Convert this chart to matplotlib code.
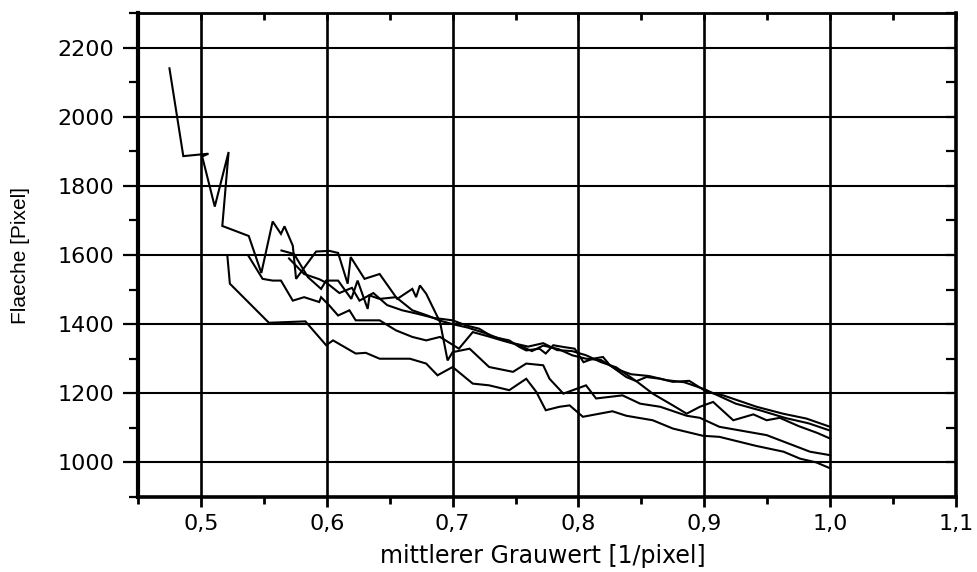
import matplotlib
matplotlib.use("Agg")
import matplotlib.pyplot as plt
from matplotlib.ticker import MultipleLocator, FuncFormatter

plt.rcParams['font.family'] = ['DejaVu Sans']

# Mean grey value vs. area, five measurement series
x_a = [0.475, 0.486, 0.506, 0.501, 0.511, 0.522, 0.517, 0.538, 0.548, 0.557, 0.5636, 0.5664,
       0.573, 0.5756, 0.5915, 0.602, 0.609, 0.6166, 0.619, 0.630, 0.642, 0.656, 0.668, 0.671,
       0.674, 0.679, 0.690, 0.696, 0.700, 0.7135, 0.729, 0.748, 0.7585, 0.772, 0.777, 0.788,
       0.806, 0.814, 0.835, 0.849, 0.865, 0.886, 0.8965, 0.912, 0.9495, 0.984, 1.0]
y_a = [2140, 1886, 1893, 1885, 1740, 1898, 1684, 1655, 1548, 1697, 1661, 1683,
       1627, 1531, 1610, 1612, 1606, 1517, 1594, 1531, 1545, 1473, 1502, 1478,
       1512, 1488, 1406, 1295, 1319, 1329, 1276, 1262, 1286, 1281, 1242, 1199,
       1223, 1185, 1194, 1170, 1161, 1135, 1129, 1103, 1079, 1031, 1021]

x_b = [0.570, 0.582, 0.594, 0.600, 0.610, 0.620, 0.626, 0.637, 0.648, 0.660, 0.672, 0.685,
       0.700, 0.711, 0.721, 0.732, 0.745, 0.753, 0.7585, 0.769, 0.774, 0.780, 0.788, 0.797,
       0.804, 0.8115, 0.8195, 0.825, 0.838, 0.846, 0.854, 0.865, 0.875, 0.888, 0.902, 0.915,
       0.9415, 0.9625, 0.981, 1.0]
y_b = [1590, 1545, 1530, 1519, 1490, 1505, 1468, 1490, 1455, 1440, 1430, 1418,
       1411, 1396, 1387, 1363, 1353, 1334, 1324, 1329, 1315, 1339, 1334, 1329,
       1290, 1300, 1305, 1281, 1247, 1235, 1247, 1242, 1233, 1236, 1204, 1194,
       1161, 1141, 1127, 1103]

x_c = [0.538, 0.549, 0.557, 0.5636, 0.573, 0.582, 0.594, 0.5955, 0.602, 0.609, 0.618, 0.623,
       0.642, 0.655, 0.668, 0.679, 0.690, 0.705, 0.716, 0.728, 0.740, 0.752, 0.763, 0.772,
       0.784, 0.795, 0.806, 0.818, 0.830, 0.842, 0.856, 0.870, 0.884, 0.900, 0.925, 0.945,
       0.965, 0.983, 1.0]
y_c = [1596, 1531, 1526, 1526, 1468, 1478, 1464, 1478, 1454, 1425, 1440, 1411,
       1411, 1382, 1363, 1353, 1363, 1329, 1377, 1365, 1352, 1340, 1322, 1338,
       1328, 1310, 1300, 1296, 1270, 1255, 1250, 1238, 1232, 1212, 1170, 1150,
       1128, 1113, 1092]

x_d = [0.564, 0.574, 0.585, 0.5955, 0.5995, 0.609, 0.6195, 0.6245, 0.6325, 0.634, 0.642, 0.655,
       0.668, 0.680, 0.690, 0.700, 0.712, 0.725, 0.736, 0.748, 0.760, 0.772, 0.783, 0.795,
       0.806, 0.818, 0.830, 0.846, 0.859, 0.875, 0.886, 0.8965, 0.907, 0.923, 0.939, 0.9495,
       0.960, 0.975, 0.990, 1.0]
y_d = [1613, 1603, 1536, 1502, 1526, 1526, 1473, 1526, 1444, 1483, 1473, 1478,
       1440, 1425, 1410, 1400, 1390, 1375, 1360, 1345, 1335, 1345, 1325, 1322,
       1310, 1290, 1275, 1235, 1199, 1165, 1141, 1161, 1175, 1122, 1139, 1122,
       1129, 1105, 1085, 1069]

x_e = [0.521, 0.523, 0.554, 0.583, 0.5995, 0.605, 0.623, 0.631, 0.642, 0.666, 0.679, 0.688,
       0.700, 0.716, 0.729, 0.745, 0.7585, 0.7665, 0.774, 0.785, 0.793, 0.8035, 0.827, 0.838,
       0.859, 0.875, 0.899, 0.912, 0.941, 0.963, 0.976, 0.989, 1.0]
y_e = [1598, 1517, 1404, 1408, 1339, 1353, 1315, 1317, 1300, 1300, 1286, 1252,
       1276, 1228, 1223, 1209, 1242, 1204, 1151, 1161, 1165, 1132, 1148, 1135,
       1122, 1098, 1077, 1074, 1048, 1031, 1011, 1000, 983]

series = [(x_a, y_a), (x_b, y_b), (x_c, y_c), (x_d, y_d), (x_e, y_e)]

x_label = "mittlerer Grauwert [1/pixel]"
y_label = "Flaeche [Pixel]"

fig = plt.figure(figsize=(9.78, 5.72), dpi=100)
ax = fig.add_axes([138 / 978, 75 / 572, (956 - 138) / 978, (497 - 13) / 572])

for xs, ys in series:
    ax.plot(xs, ys, color='black', lw=1.5, solid_joinstyle='miter', zorder=3)

ax.set_xlim(0.45, 1.1)
ax.set_ylim(900, 2300)

ax.xaxis.set_major_locator(MultipleLocator(0.1))
ax.xaxis.set_minor_locator(MultipleLocator(0.05))
ax.yaxis.set_major_locator(MultipleLocator(200))
ax.yaxis.set_minor_locator(MultipleLocator(100))
ax.xaxis.set_major_formatter(FuncFormatter(lambda v, p: f"{v:.1f}".replace('.', ',')))
ax.yaxis.set_major_formatter(FuncFormatter(lambda v, p: f"{v:.0f}"))

# vertical grid lines are drawn a little heavier than the horizontal ones
ax.xaxis.grid(True, which='major', color='black', lw=1.9, zorder=1)
ax.yaxis.grid(True, which='major', color='black', lw=1.5, zorder=1)

ax.tick_params(which='both', direction='out', colors='black', labelsize=16,
               top=False, right=False)
ax.tick_params(axis='x', which='major', length=7, width=2.0, pad=5)
ax.tick_params(axis='x', which='minor', length=5, width=2.0)
ax.tick_params(axis='y', which='major', length=11, width=1.6, pad=6)
ax.tick_params(axis='y', which='minor', length=6.5, width=1.6)

# inward ticks on the opposite spines
ax_t = ax.secondary_xaxis('top')
ax_t.xaxis.set_major_locator(MultipleLocator(0.1))
ax_t.xaxis.set_minor_locator(MultipleLocator(0.05))
ax_t.tick_params(which='both', direction='in', labeltop=False, width=2.0, length=5)
ax_r = ax.secondary_yaxis('right')
ax_r.yaxis.set_major_locator(MultipleLocator(200))
ax_r.yaxis.set_minor_locator(MultipleLocator(100))
ax_r.tick_params(which='both', direction='in', labelright=False, width=1.6, length=7)
for a in (ax_t, ax_r):
    for s in a.spines.values():
        s.set_visible(False)

ax.spines['left'].set_linewidth(3.0)
ax.spines['bottom'].set_linewidth(2.6)
ax.spines['top'].set_linewidth(2.0)
ax.spines['right'].set_linewidth(2.6)

ax.set_xlabel(x_label, fontsize=17)
ax.xaxis.set_label_coords(0.495, -0.098)
ax.set_ylabel(y_label, fontsize=15,
              family=['Liberation Sans Narrow', 'Liberation Sans', 'DejaVu Sans'])
ax.yaxis.set_label_coords(-0.132, 0.5)

fig.savefig("out.png", dpi=100, facecolor='white')
